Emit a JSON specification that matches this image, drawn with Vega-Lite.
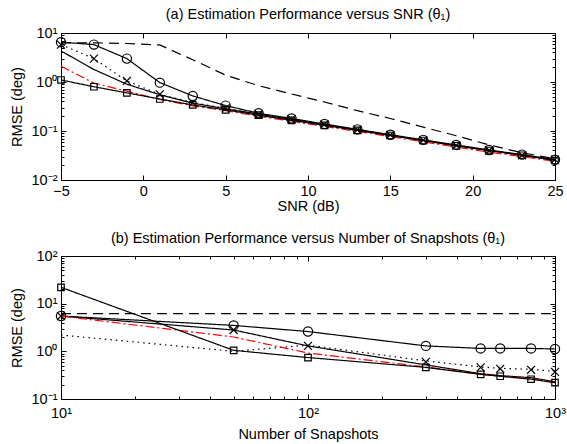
{
  "$schema": "https://vega.github.io/schema/vega-lite/v6.json",
  "padding": {"left": 8, "top": 6, "right": 8, "bottom": 0},
  "spacing": 16,
  "config": {
    "font": "Liberation Sans",
    "view": {"stroke": "black", "strokeWidth": 1},
    "axis": {"domainColor": "black", "tickColor": "black", "labelColor": "black", "titleColor": "black", "labelFontSize": 14.5, "titleFontSize": 14.5, "titleFontWeight": "normal", "grid": false, "labelFont": "Liberation Sans", "titleFont": "Liberation Sans", "labelOverlap": false, "labelFlush": false},
    "title": {"fontSize": 14.5, "fontWeight": "normal", "font": "Liberation Sans", "color": "black"}
  },
  "datasets": {
    "top": [
      {"s":"A","snr":-5,"rmse":6.3},{"s":"A","snr":-3,"rmse":6.3},{"s":"A","snr":-1,"rmse":6.1},{"s":"A","snr":1,"rmse":5.7},{"s":"A","snr":3,"rmse":2.85},{"s":"A","snr":5,"rmse":1.38},{"s":"A","snr":7,"rmse":0.84},{"s":"A","snr":9,"rmse":0.57},{"s":"A","snr":11,"rmse":0.39},{"s":"A","snr":13,"rmse":0.26},{"s":"A","snr":15,"rmse":0.18},{"s":"A","snr":17,"rmse":0.12},{"s":"A","snr":19,"rmse":0.08},{"s":"A","snr":21,"rmse":0.052},{"s":"A","snr":23,"rmse":0.036},{"s":"A","snr":25,"rmse":0.027},
      {"s":"B","snr":-5,"rmse":6.5},{"s":"B","snr":-3,"rmse":5.8},{"s":"B","snr":-1,"rmse":3.0},{"s":"B","snr":1,"rmse":0.97},{"s":"B","snr":3,"rmse":0.52},{"s":"B","snr":5,"rmse":0.33},{"s":"B","snr":7,"rmse":0.23},{"s":"B","snr":9,"rmse":0.18},{"s":"B","snr":11,"rmse":0.139},{"s":"B","snr":13,"rmse":0.108},{"s":"B","snr":15,"rmse":0.084},{"s":"B","snr":17,"rmse":0.066},{"s":"B","snr":19,"rmse":0.052},{"s":"B","snr":21,"rmse":0.041},{"s":"B","snr":23,"rmse":0.033},{"s":"B","snr":25,"rmse":0.026},
      {"s":"C","snr":-5,"rmse":5.8},{"s":"C","snr":-3,"rmse":3.0},{"s":"C","snr":-1,"rmse":1.05},{"s":"C","snr":1,"rmse":0.56},{"s":"C","snr":3,"rmse":0.38},{"s":"C","snr":5,"rmse":0.29},{"s":"C","snr":7,"rmse":0.22},{"s":"C","snr":9,"rmse":0.175},{"s":"C","snr":11,"rmse":0.136},{"s":"C","snr":13,"rmse":0.106},{"s":"C","snr":15,"rmse":0.083},{"s":"C","snr":17,"rmse":0.065},{"s":"C","snr":19,"rmse":0.051},{"s":"C","snr":21,"rmse":0.04},{"s":"C","snr":23,"rmse":0.032},{"s":"C","snr":25,"rmse":0.026},
      {"s":"D","snr":-5,"rmse":5.8},{"s":"D","snr":-3,"rmse":3.0},{"s":"D","snr":-1,"rmse":1.05},{"s":"D","snr":1,"rmse":0.56},{"s":"D","snr":3,"rmse":0.38},{"s":"D","snr":5,"rmse":0.29},{"s":"D","snr":7,"rmse":0.22},{"s":"D","snr":9,"rmse":0.175},{"s":"D","snr":11,"rmse":0.136},{"s":"D","snr":13,"rmse":0.106},{"s":"D","snr":15,"rmse":0.083},{"s":"D","snr":17,"rmse":0.065},{"s":"D","snr":19,"rmse":0.051},{"s":"D","snr":21,"rmse":0.04},{"s":"D","snr":23,"rmse":0.032},{"s":"D","snr":25,"rmse":0.026},
      {"s":"E","snr":-5,"rmse":4.3},{"s":"E","snr":-3,"rmse":1.8},{"s":"E","snr":-1,"rmse":0.9},{"s":"E","snr":1,"rmse":0.55},{"s":"E","snr":3,"rmse":0.37},{"s":"E","snr":5,"rmse":0.285},{"s":"E","snr":7,"rmse":0.22},{"s":"E","snr":9,"rmse":0.172},{"s":"E","snr":11,"rmse":0.135},{"s":"E","snr":13,"rmse":0.105},{"s":"E","snr":15,"rmse":0.082},{"s":"E","snr":17,"rmse":0.064},{"s":"E","snr":19,"rmse":0.05},{"s":"E","snr":21,"rmse":0.04},{"s":"E","snr":23,"rmse":0.032},{"s":"E","snr":25,"rmse":0.026},
      {"s":"F","snr":-5,"rmse":2.1},{"s":"F","snr":-3,"rmse":0.95},{"s":"F","snr":-1,"rmse":0.65},{"s":"F","snr":1,"rmse":0.44},{"s":"F","snr":3,"rmse":0.325},{"s":"F","snr":5,"rmse":0.26},{"s":"F","snr":7,"rmse":0.2},{"s":"F","snr":9,"rmse":0.158},{"s":"F","snr":11,"rmse":0.124},{"s":"F","snr":13,"rmse":0.098},{"s":"F","snr":15,"rmse":0.077},{"s":"F","snr":17,"rmse":0.06},{"s":"F","snr":19,"rmse":0.047},{"s":"F","snr":21,"rmse":0.037},{"s":"F","snr":23,"rmse":0.03},{"s":"F","snr":25,"rmse":0.024},
      {"s":"G","snr":-5,"rmse":1.1},{"s":"G","snr":-3,"rmse":0.8},{"s":"G","snr":-1,"rmse":0.6},{"s":"G","snr":1,"rmse":0.45},{"s":"G","snr":3,"rmse":0.34},{"s":"G","snr":5,"rmse":0.27},{"s":"G","snr":7,"rmse":0.21},{"s":"G","snr":9,"rmse":0.165},{"s":"G","snr":11,"rmse":0.13},{"s":"G","snr":13,"rmse":0.103},{"s":"G","snr":15,"rmse":0.081},{"s":"G","snr":17,"rmse":0.064},{"s":"G","snr":19,"rmse":0.05},{"s":"G","snr":21,"rmse":0.04},{"s":"G","snr":23,"rmse":0.032},{"s":"G","snr":25,"rmse":0.025}
    ],
    "bot": [
      {"s":"A","n":10,"rmse":6.2},{"s":"A","n":50,"rmse":6.2},{"s":"A","n":100,"rmse":6.2},{"s":"A","n":300,"rmse":6.2},{"s":"A","n":500,"rmse":6.2},{"s":"A","n":600,"rmse":6.2},{"s":"A","n":800,"rmse":6.2},{"s":"A","n":1000,"rmse":6.2},
      {"s":"B","n":10,"rmse":5.5},{"s":"B","n":50,"rmse":3.5},{"s":"B","n":100,"rmse":2.6},{"s":"B","n":300,"rmse":1.3},{"s":"B","n":500,"rmse":1.15},{"s":"B","n":600,"rmse":1.15},{"s":"B","n":800,"rmse":1.15},{"s":"B","n":1000,"rmse":1.12},
      {"s":"C","n":10,"rmse":5.5},{"s":"C","n":50,"rmse":2.8},{"s":"C","n":100,"rmse":1.3},{"s":"C","n":300,"rmse":0.6},{"s":"C","n":500,"rmse":0.46},{"s":"C","n":600,"rmse":0.43},{"s":"C","n":800,"rmse":0.41},{"s":"C","n":1000,"rmse":0.37},
      {"s":"D","n":10,"rmse":2.2},{"s":"D","n":50,"rmse":1.0},{"s":"D","n":100,"rmse":1.35},{"s":"D","n":300,"rmse":0.63},{"s":"D","n":500,"rmse":0.47},{"s":"D","n":600,"rmse":0.44},{"s":"D","n":800,"rmse":0.42},{"s":"D","n":1000,"rmse":0.38},
      {"s":"E","n":10,"rmse":5.5},{"s":"E","n":50,"rmse":2.8},{"s":"E","n":100,"rmse":1.3},{"s":"E","n":300,"rmse":0.52},{"s":"E","n":500,"rmse":0.34},{"s":"E","n":600,"rmse":0.31},{"s":"E","n":800,"rmse":0.28},{"s":"E","n":1000,"rmse":0.23},
      {"s":"F","n":10,"rmse":5.5},{"s":"F","n":50,"rmse":2.0},{"s":"F","n":100,"rmse":0.92},{"s":"F","n":300,"rmse":0.47},{"s":"F","n":500,"rmse":0.33},{"s":"F","n":600,"rmse":0.3},{"s":"F","n":800,"rmse":0.27},{"s":"F","n":1000,"rmse":0.22},
      {"s":"G","n":10,"rmse":22},{"s":"G","n":50,"rmse":1.05},{"s":"G","n":100,"rmse":0.74},{"s":"G","n":300,"rmse":0.46},{"s":"G","n":500,"rmse":0.33},{"s":"G","n":600,"rmse":0.3},{"s":"G","n":800,"rmse":0.26},{"s":"G","n":1000,"rmse":0.22}
    ]
  },
  "vconcat": [
    {
      "width": 494, "height": 147,
      "title": {"text": "(a) Estimation Performance versus SNR (θ₁)", "offset": 3},
      "data": {"name": "top"},
      "resolve": {"axis": {"x": "independent", "y": "independent"}},
      "layer": [
        {
          "transform": [{"filter": "datum.s != 'C'"}],
          "mark": {"type": "line", "strokeWidth": 1.2},
          "encoding": {
            "x": {"field": "snr", "type": "quantitative", "scale": {"domain": [-5, 25], "nice": false, "zero": false},
                  "axis": {"values": [-5, 0, 5, 10, 15, 20, 25], "title": "SNR (dB)", "tickSize": -5, "labelPadding": 9, "titlePadding": 2}},
            "y": {"field": "rmse", "type": "quantitative", "scale": {"type": "log", "domain": [0.01, 10], "nice": false},
                  "axis": {"values": [0.01,0.02,0.03,0.04,0.05,0.06,0.07,0.08,0.09,0.1,0.2,0.3,0.4,0.5,0.6,0.7,0.8,0.9,1,2,3,4,5,6,7,8,9,10],
                           "labelExpr": "datum.value == 10 ? '10¹' : datum.value == 1 ? '10⁰' : datum.value == 0.1 ? '10⁻¹' : datum.value == 0.01 ? '10⁻²' : ''",
                           "tickSize": {"condition": {"test": "abs(log(datum.value)/LN10 - round(log(datum.value)/LN10)) < 0.001", "value": -5}, "value": -3},
                           "title": "RMSE (deg)", "labelPadding": 9, "titlePadding": 7}},
            "color": {"field": "s", "type": "nominal", "legend": null, "scale": {"domain": ["A","B","D","E","F","G"], "range": ["black","black","black","black","red","black"]}},
            "strokeDash": {"field": "s", "type": "nominal", "legend": null, "scale": {"domain": ["A","B","D","E","F","G"], "range": [[10,6],[1,0],[1.5,4],[1,0],[9,3,2,3],[1,0]]}}
          }
        },
        {
          "transform": [{"filter": {"field": "s", "oneOf": ["B", "C", "G"]}}],
          "mark": {"type": "point", "filled": false, "strokeWidth": 1.2, "color": "black", "opacity": 1},
          "encoding": {
            "x": {"field": "snr", "type": "quantitative", "axis": null},
            "y": {"field": "rmse", "type": "quantitative", "axis": null},
            "shape": {"field": "s", "type": "nominal", "legend": null, "scale": {"domain": ["B","C","G"], "range": ["circle", "M-1,-1L1,1M-1,1L1,-1", "square"]}},
            "size": {"field": "s", "type": "nominal", "legend": null, "scale": {"domain": ["B","C","G"], "range": [85, 42, 68]}}
          }
        },
        {
          "mark": {"type": "point", "opacity": 0},
          "encoding": {
            "x": {"field": "snr", "type": "quantitative", "axis": {"orient": "top", "values": [-5, 0, 5, 10, 15, 20, 25], "labels": false, "title": null, "tickSize": -5, "domain": false}},
            "y": {"field": "rmse", "type": "quantitative", "axis": {"orient": "right", "values": [0.01,0.02,0.03,0.04,0.05,0.06,0.07,0.08,0.09,0.1,0.2,0.3,0.4,0.5,0.6,0.7,0.8,0.9,1,2,3,4,5,6,7,8,9,10], "labels": false, "title": null, "domain": false,
                  "tickSize": {"condition": {"test": "abs(log(datum.value)/LN10 - round(log(datum.value)/LN10)) < 0.001", "value": -5}, "value": -3}}}
          }
        }
      ]
    },
    {
      "width": 494, "height": 143,
      "title": {"text": "(b) Estimation Performance versus Number of Snapshots (θ₁)", "offset": 2},
      "data": {"name": "bot"},
      "resolve": {"axis": {"x": "independent", "y": "independent"}},
      "layer": [
        {
          "transform": [{"filter": "datum.s != 'C'"}],
          "mark": {"type": "line", "strokeWidth": 1.2},
          "encoding": {
            "x": {"field": "n", "type": "quantitative", "scale": {"type": "log", "domain": [10, 1000], "nice": false},
                  "axis": {"values": [10,20,30,40,50,60,70,80,90,100,200,300,400,500,600,700,800,900,1000],
                           "labelExpr": "datum.value == 10 ? '10¹' : datum.value == 100 ? '10²' : datum.value == 1000 ? '10³' : ''",
                           "tickSize": {"condition": {"test": "abs(log(datum.value)/LN10 - round(log(datum.value)/LN10)) < 0.001", "value": -5}, "value": -3},
                           "title": "Number of Snapshots", "labelPadding": 12, "titlePadding": 6}},
            "y": {"field": "rmse", "type": "quantitative", "scale": {"type": "log", "domain": [0.1, 100], "nice": false},
                  "axis": {"values": [0.1,0.2,0.3,0.4,0.5,0.6,0.7,0.8,0.9,1,2,3,4,5,6,7,8,9,10,20,30,40,50,60,70,80,90,100],
                           "labelExpr": "datum.value == 100 ? '10²' : datum.value == 10 ? '10¹' : datum.value == 1 ? '10⁰' : datum.value == 0.1 ? '10⁻¹' : ''",
                           "tickSize": {"condition": {"test": "abs(log(datum.value)/LN10 - round(log(datum.value)/LN10)) < 0.001", "value": -5}, "value": -3},
                           "title": "RMSE (deg)", "labelPadding": 9, "titlePadding": 7}},
            "color": {"field": "s", "type": "nominal", "legend": null, "scale": {"domain": ["A","B","D","E","F","G"], "range": ["black","black","black","black","red","black"]}},
            "strokeDash": {"field": "s", "type": "nominal", "legend": null, "scale": {"domain": ["A","B","D","E","F","G"], "range": [[10,6],[1,0],[1.5,4],[1,0],[9,3,2,3],[1,0]]}}
          }
        },
        {
          "transform": [{"filter": {"field": "s", "oneOf": ["B", "C", "G"]}}],
          "mark": {"type": "point", "filled": false, "strokeWidth": 1.2, "color": "black", "opacity": 1},
          "encoding": {
            "x": {"field": "n", "type": "quantitative", "axis": null},
            "y": {"field": "rmse", "type": "quantitative", "axis": null},
            "shape": {"field": "s", "type": "nominal", "legend": null, "scale": {"domain": ["B","C","G"], "range": ["circle", "M-1,-1L1,1M-1,1L1,-1", "square"]}},
            "size": {"field": "s", "type": "nominal", "legend": null, "scale": {"domain": ["B","C","G"], "range": [85, 42, 68]}}
          }
        },
        {
          "mark": {"type": "point", "opacity": 0},
          "encoding": {
            "x": {"field": "n", "type": "quantitative", "axis": {"orient": "top", "values": [10,20,30,40,50,60,70,80,90,100,200,300,400,500,600,700,800,900,1000], "labels": false, "title": null, "domain": false,
                  "tickSize": {"condition": {"test": "abs(log(datum.value)/LN10 - round(log(datum.value)/LN10)) < 0.001", "value": -5}, "value": -3}}},
            "y": {"field": "rmse", "type": "quantitative", "axis": {"orient": "right", "values": [0.1,0.2,0.3,0.4,0.5,0.6,0.7,0.8,0.9,1,2,3,4,5,6,7,8,9,10,20,30,40,50,60,70,80,90,100], "labels": false, "title": null, "domain": false,
                  "tickSize": {"condition": {"test": "abs(log(datum.value)/LN10 - round(log(datum.value)/LN10)) < 0.001", "value": -5}, "value": -3}}}
          }
        }
      ]
    }
  ]
}
